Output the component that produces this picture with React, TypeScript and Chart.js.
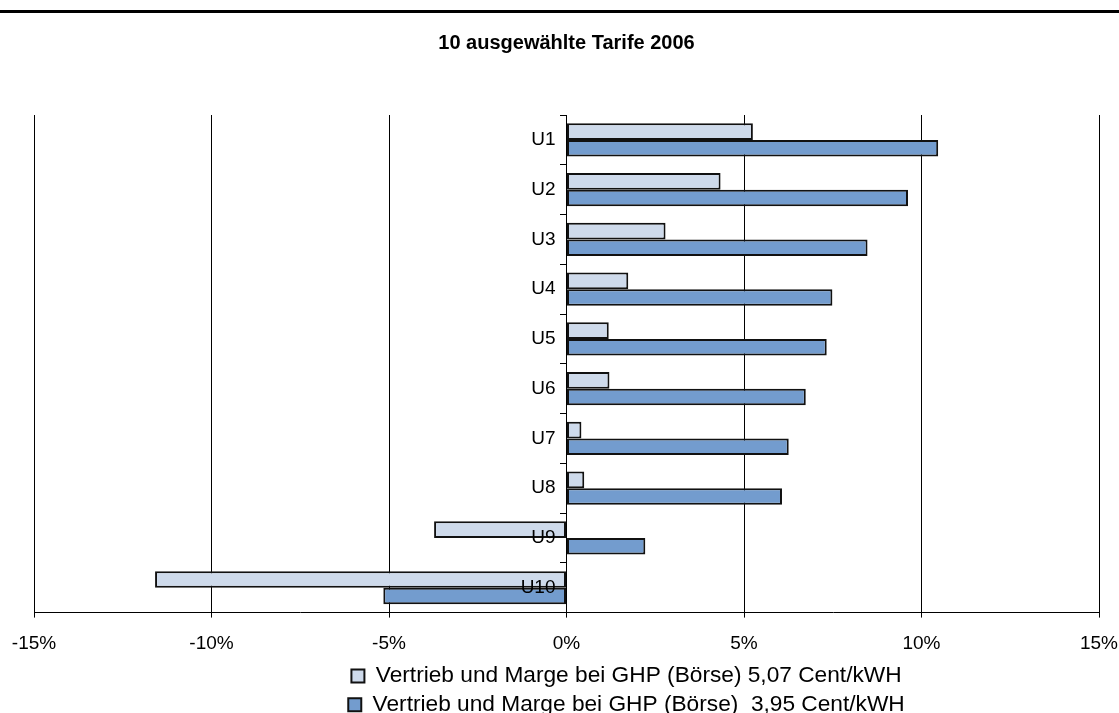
import React, { useEffect, useRef } from 'react';
import { Chart, registerables } from 'chart.js';

Chart.register(...registerables);

const chartTitle = '10 ausgewählte Tarife 2006';
const categories = ['U1', 'U2', 'U3', 'U4', 'U5', 'U6', 'U7', 'U8', 'U9', 'U10'];
const series1Label = 'Vertrieb und Marge bei GHP (Börse) 5,07 Cent/kWH';
const series2Label = 'Vertrieb und Marge bei GHP (Börse)  3,95 Cent/kWH';
const series1Values = [5.25, 4.34, 2.79, 1.74, 1.19, 1.21, 0.42, 0.5, -3.73, -11.59];
const series2Values = [10.47, 9.62, 8.48, 7.49, 7.33, 6.74, 6.26, 6.07, 2.22, -5.16];
const xMin = -15;
const xMax = 15;
const xStep = 5;

const FONT = "'Liberation Sans', Arial, sans-serif";

const topLinePlugin = {
  id: 'topLine',
  beforeDraw(chart: any) {
    const { ctx, width, height } = chart;
    ctx.save();
    ctx.fillStyle = '#ffffff';
    ctx.fillRect(0, 0, width, height);
    ctx.fillStyle = '#000000';
    ctx.fillRect(0, 10, width, 3);
    ctx.restore();
  },
};

// Shift the category labels left of the zero axis, and move the legend block right.
const tweakPlugin = {
  id: 'tweak',
  afterLayout(chart: any) {
    const lg = chart.legend;
    if (lg) {
      lg.left += 60;
      lg.right += 60;
    }
  },
  beforeDraw(chart: any) {
    const y = chart.scales.y;
    if (!y) return;
    const items = y.getLabelItems(chart.chartArea) || [];
    items.forEach((it: any) => {
      const opts = it && it.options;
      if (opts && opts.translation && !it._shifted) {
        opts.translation = [opts.translation[0] - 11, opts.translation[1]];
        it._shifted = true;
      }
    });
  },
};

export default function App() {
  const canvasRef = useRef<HTMLCanvasElement | null>(null);

  useEffect(() => {
    if (!canvasRef.current) return;
    const chart = new Chart(canvasRef.current, {
      type: 'bar',
      data: {
        labels: categories,
        datasets: [
          {
            label: series1Label,
            data: series1Values,
            backgroundColor: '#CEDAEB',
            borderColor: '#111111',
            borderWidth: 2,
            borderSkipped: false,
          },
          {
            label: series2Label,
            data: series2Values,
            backgroundColor: '#739CCE',
            borderColor: '#111111',
            borderWidth: 2,
            borderSkipped: false,
          },
        ],
      },
      options: {
        indexAxis: 'y',
        animation: false,
        responsive: false,
        maintainAspectRatio: false,
        devicePixelRatio: 1,
        datasets: {
          bar: {
            categoryPercentage: 0.667,
            barPercentage: 1.0,
          },
        },
        layout: {
          padding: { left: 34, right: 20, top: 0, bottom: 0 },
        },
        plugins: {
          title: {
            display: true,
            text: chartTitle,
            color: '#000',
            font: { family: FONT, size: 20, weight: 'bold' },
            padding: { top: 31, bottom: 60 },
          },
          legend: {
            display: true,
            position: 'bottom',
            labels: {
              color: '#000',
              font: { family: FONT, size: 22.7 },
              boxWidth: 13,
              boxHeight: 13,
              padding: 6,
            },
          },
          tooltip: { enabled: false },
        },
        scales: {
          x: {
            type: 'linear',
            min: xMin,
            max: xMax,
            afterFit: (scale: any) => {
              scale.height = 46;
              scale.paddingLeft = 0;
              scale.paddingRight = 0;
            },
            ticks: {
              stepSize: xStep,
              color: '#000',
              padding: 15,
              font: { family: FONT, size: 19 },
              callback: (v: any) => `${v}%`,
            },
            grid: {
              color: '#000',
              lineWidth: 1,
              drawTicks: true,
              tickLength: 5,
            },
            border: { display: true, color: '#000', width: 1 },
          },
          y: {
            type: 'category',
            position: { x: 0 } as any,
            ticks: {
              z: 1,
              color: '#000',
              padding: 4,
              font: { family: FONT, size: 19 },
            },
            grid: {
              offset: true,
              drawOnChartArea: false,
              drawTicks: true,
              tickLength: 6,
              color: '#000',
            },
            border: { display: true, color: '#000', width: 1 },
          },
        },
      },
      plugins: [topLinePlugin, tweakPlugin],
    } as any);
    return () => chart.destroy();
  }, []);

  return (
    <div
      style={{
        position: 'absolute',
        left: 0,
        top: 0,
        width: 1119,
        height: 713,
        overflow: 'hidden',
        background: '#fff',
      }}
    >
      <canvas ref={canvasRef} width={1119} height={726} style={{ display: 'block' }} />
    </div>
  );
}
